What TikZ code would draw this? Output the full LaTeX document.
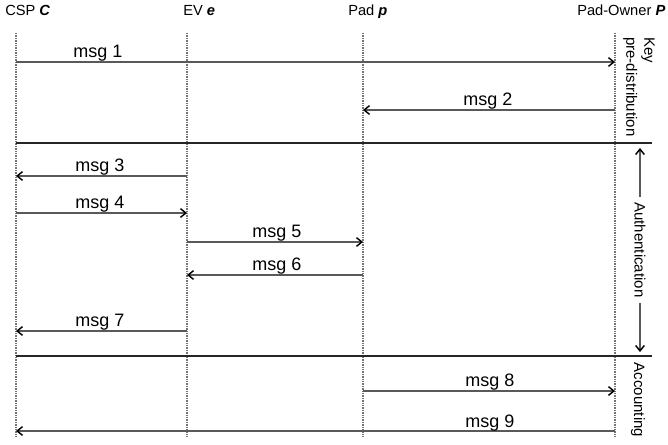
\documentclass[tikz,border=0pt]{standalone}
\usepackage{fontspec}
\setmainfont{Liberation Sans}
\usetikzlibrary{arrows.meta}
\begin{document}
\begin{tikzpicture}[x=0.75pt,y=-0.75pt,
  life/.style={draw=black!55, line width=0.8pt, dash pattern=on 1pt off 0.8pt},
  tipstyle/.style={-{Straight Barb[length=4pt,width=6.5pt,line width=1.1pt,color=black]}},
  msg/.style={draw=black!65, line width=0.85pt, tipstyle},
  sep/.style={draw=black!85, line width=1.3pt},
  lbl/.style={font=\fontsize{13.5}{16}\selectfont, anchor=base, inner sep=0pt},
  head/.style={font=\fontsize{11}{13}\selectfont, anchor=base west, inner sep=0pt},
  phase/.style={font=\fontsize{11.25}{13.5}\selectfont, rotate=-90},
  bothtip/.style={draw=black!65, line width=0.85pt, tipstyle}
]
\useasboundingbox (0,0) rectangle (668,445);
% headers
\node[head] (hC) at (5,16) {CSP \textbf{\textit{C}}};
\node[head] (he) at (183,16) {EV \textbf{\textit{e}}};
\node[head] (hp) at (348,16) {Pad \textbf{\textit{p}}};
\node[head] (hP) at (577,16) {Pad-Owner \textbf{\textit{P}}};
% lifelines
\coordinate (C) at (16,33);  \coordinate (Cb) at (16,437);
\coordinate (e) at (187,33); \coordinate (eb) at (187,437);
\coordinate (p) at (363,33); \coordinate (pb) at (363,437);
\coordinate (P) at (615,33); \coordinate (Pb) at (615,437);
\draw[life] (C) -- (Cb);
\draw[life] (e) -- (eb);
\draw[life] (p) -- (pb);
\draw[life] (P) -- (Pb);
% separators
\coordinate (s1) at (652,143);
\coordinate (s2) at (652,356);
\draw[sep] (C |- s1) -- (s1);
\draw[sep] (C |- s2) -- (s2);
% messages
\draw[msg] (C |- 0,62) -- (P |- 0,62);
\node[lbl] (l1) at (98,58) {msg 1};
\draw[msg] (P |- 0,110) -- (p |- 0,110);
\node[lbl] (l2) at (488,106) {msg 2};
\draw[msg] (e |- 0,176) -- (C |- 0,176);
\node[lbl] (l3) at (100,172) {msg 3};
\draw[msg] (C |- 0,213) -- (e |- 0,213);
\node[lbl] (l4) at (100,209) {msg 4};
\draw[msg] (e |- 0,242) -- (p |- 0,242);
\node[lbl] (l5) at (277,238) {msg 5};
\draw[msg] (p |- 0,275) -- (e |- 0,275);
\node[lbl] (l6) at (277,271) {msg 6};
\draw[msg] (e |- 0,331) -- (C |- 0,331);
\node[lbl] (l7) at (100,327) {msg 7};
\draw[msg] (p |- 0,391) -- (P |- 0,391);
\node[lbl] (l8) at (490,387) {msg 8};
\draw[msg] (P |- 0,431) -- (C |- 0,431);
\node[lbl] (l9) at (490,427) {msg 9};
% phases
\node[phase, align=left, anchor=west, inner sep=0pt] (key) at (639,37) {Key\\pre-distribution};
\node[phase, inner sep=4pt] (auth) at (640,250) {Authentication};
\coordinate (authtop) at (640,148);
\coordinate (authbot) at (640,352);
\draw[bothtip] (auth.west) -- (authtop);
\draw[bothtip] (auth.east) -- (authbot);
\node[phase, inner sep=0pt] (acc) at (638,400) {Accounting};
\end{tikzpicture}
\end{document}
